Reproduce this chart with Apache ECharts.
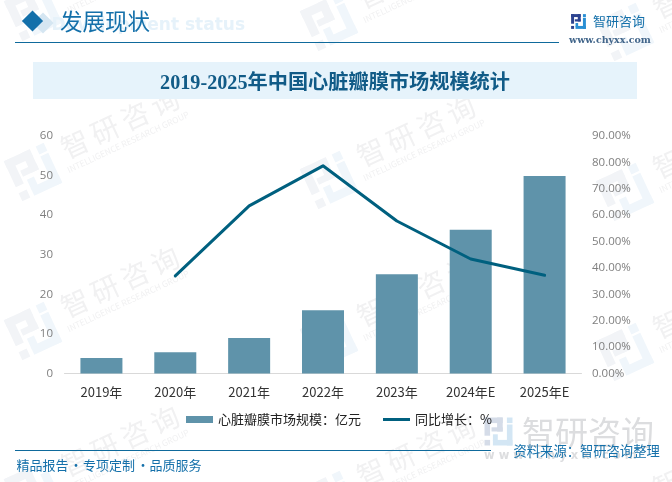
<!DOCTYPE html>
<html><head><meta charset="utf-8">
<style>html,body{margin:0;padding:0;background:#fff}#c{width:672px;height:482px}</style>
<script src="https://cdn.jsdelivr.net/npm/echarts@6/dist/echarts.min.js"></script>
</head><body><div id="c"></div>
<script>
const categories = ['2019年','2020年','2021年','2022年','2023年','2024年E','2025年E'];
const marketSize = [3.9,5.4,9.0,16.0,25.1,36.3,49.9];
const growth = [null,37.0,63.5,78.7,57.8,43.4,37.2];
const seriesNames = ['心脏瓣膜市场规模：亿元','同比增长：%'];
const chart = echarts.init(document.getElementById('c'),null,{renderer:'canvas'});
const serif = '"Liberation Serif","DejaVu Serif","Noto Sans CJK SC",serif';
const sans = '"Noto Sans CJK SC",sans-serif';
const wmSpots = [[33,12],[33,172],[33,331],[33,490],[329,22],[329,180],[329,340],[329,500],[625,32],[625,192],[625,352],[625,512]];
const ANG = 25*Math.PI/180;
const g = [];
function logo(cx,cy,s,rot,c1,c2,z){
  const left=[[-20,-20,26,8],[-20,-20,8,26],[-2,-20,8,20],[-10,-6,16,6],[-20,12,8,8]];
  const right=[[12,-20,8,8],[12,-10,8,30],[-8,12,28,8],[-8,4,7,10]];
  left.forEach(b=>g.push({type:'rect',x:cx,y:cy,rotation:rot,z:z,silent:true,shape:{x:b[0]*s,y:b[1]*s,width:b[2]*s,height:b[3]*s},style:{fill:c1}}));
  right.forEach(b=>g.push({type:'rect',x:cx,y:cy,rotation:rot,z:z,silent:true,shape:{x:b[0]*s,y:b[1]*s,width:b[2]*s,height:b[3]*s},style:{fill:c2}}));
}
const wmChars = ['智','研','咨','询'];
wmSpots.forEach(p=>{
  logo(p[0],p[1],1.1,ANG,'#f2f4f7','#f0f6fb',0);
  wmChars.forEach((ch,i)=>{
    g.push({type:'text',x:p[0]+42+i*30,y:p[1]-28-i*14,rotation:ANG,z:0,silent:true,
      style:{text:ch,font:'28px '+sans,fill:'#f1f1f2',textAlign:'center',textVerticalAlign:'middle'}});
  });
  g.push({type:'text',x:p[0]+95,y:p[1]-30,rotation:ANG,z:0,silent:true,
    style:{text:'INTELLIGENCE RESEARCH GROUP',font:'8.5px '+sans,fill:'#f1f1f2',textAlign:'center',textVerticalAlign:'middle'}});
});
// header
g.push({type:'text',x:245,y:26,z:1,silent:true,style:{text:'Development status',font:'bold 17px "DejaVu Sans",sans-serif',fill:'#e6f2fa',textAlign:'right',textVerticalAlign:'middle'}});
g.push({type:'rect',x:43,y:23,rotation:Math.PI/4,z:2,silent:true,shape:{x:-7.5,y:-7.5,width:15,height:15},style:{fill:'#d5e6f2'}},
{type:'rect',x:32.5,y:21,rotation:Math.PI/4,z:3,silent:true,shape:{x:-7.5,y:-7.5,width:15,height:15},style:{fill:'#1470aa'}});
g.push({type:'text',x:60,y:21.5,z:3,silent:true,style:{text:'发展现状',font:'22.5px '+sans,fill:'#1470aa',textVerticalAlign:'middle'}});
g.push({type:'line',z:3,silent:true,shape:{x1:15,y1:42.5,x2:559,y2:42.5},style:{stroke:'#0f6a9c',lineWidth:1}});
g.push({type:'rect',z:1,silent:true,shape:{x:33,y:62,width:604,height:37},style:{fill:'#e6f3fb'}});
g.push({type:'text',x:335,y:84,z:3,silent:true,style:{text:'2019-2025年中国心脏瓣膜市场规模统计',font:'bold 20.2px '+serif,fill:'#115b87',textAlign:'center',textVerticalAlign:'middle'}});
// top logo
logo(578.5,21.5,0.37,0,'#2d4390','#2a8fd4',3);
g.push({type:'text',x:593,y:21,z:3,silent:true,style:{text:'智研咨询',font:'13px '+sans,fill:'#1470aa',textVerticalAlign:'middle'}});
g.push({type:'text',x:569,y:41,z:3,silent:true,style:{text:'www.chyxx.com',font:'bold 9.5px "DejaVu Serif",serif',fill:'#41658a',textVerticalAlign:'middle'}});
// bottom watermark
logo(498.5,431.5,0.7,0,'#d5dce8','#d3e6f4',1);
g.push({type:'text',x:522,y:432,z:1,silent:true,style:{text:'智研咨询',font:'33px '+sans,fill:'#dcdddf',textVerticalAlign:'middle'}});
g.push({type:'text',x:484,y:456,z:1,silent:true,style:{text:'w w w . c h y x x . c o m',font:'bold 11.5px "DejaVu Sans"',fill:'#dcdddf',textVerticalAlign:'middle'}});
// footer
g.push({type:'line',z:3,silent:true,shape:{x1:15,y1:450.5,x2:491,y2:450.5},style:{stroke:'#0f6a9c',lineWidth:1}});
[['精品报告',16.5,'left'],['·',76,'center'],['专项定制',83,'left'],['·',143,'center'],['品质服务',149.5,'left']].forEach(t=>
  g.push({type:'text',x:t[1],y:465.5,z:3,silent:true,style:{text:t[0],font:'13px '+sans,fill:'#1470aa',textAlign:t[2],textVerticalAlign:'middle'}}));
g.push({type:'text',x:513.5,y:451,z:3,silent:true,style:{text:'资料来源：智研咨询整理',font:'13.3px '+sans,fill:'#1470aa',textVerticalAlign:'middle'}});

chart.setOption({
  animation:false,
  backgroundColor:'#fff',
  textStyle:{fontFamily:sans},
  graphic:g,
  grid:{left:64.5,right:90.5,top:136,bottom:108.5},
  legend:{top:413,left:186,padding:0,itemGap:22,itemWidth:27,itemHeight:7,
    textStyle:{color:'#222',fontSize:13,fontFamily:sans},
    data:[{name:seriesNames[0],icon:'rect'},{name:seriesNames[1],icon:'path://M0 0L0 0ZM0 2H28V5H0ZM28 7L28 7Z'}]},
  xAxis:{type:'category',data:categories,axisTick:{show:false},
    axisLine:{lineStyle:{color:'#d9d9d9',width:1}},
    axisLabel:{color:'#333',fontSize:13,margin:12,fontFamily:sans}},
  yAxis:[
   {type:'value',min:0,max:60,interval:10,splitLine:{show:false},axisLine:{show:false},axisTick:{show:false},
    axisLabel:{color:'#7f7f7f',fontSize:11.5,margin:11.5,padding:[2,0,0,0],fontFamily:'"Open Sans",sans-serif'}},
   {type:'value',min:0,max:90,interval:10,splitLine:{show:false},axisLine:{show:false},axisTick:{show:false},
    axisLabel:{color:'#7f7f7f',fontSize:11.5,margin:10.5,padding:[2,0,0,0],fontFamily:'"Open Sans",sans-serif',formatter:v=>v.toFixed(2)+'%'}}
  ],
  series:[
   {name:seriesNames[0],type:'bar',data:marketSize,barWidth:42,itemStyle:{color:'#5f93aa'},z:4},
   {name:seriesNames[1],type:'line',yAxisIndex:1,data:growth,symbol:'none',connectNulls:false,lineStyle:{color:'#00607f',width:3,cap:'round',join:'round'},itemStyle:{color:'#00607f'},z:5}
  ]
});
</script></body></html>
